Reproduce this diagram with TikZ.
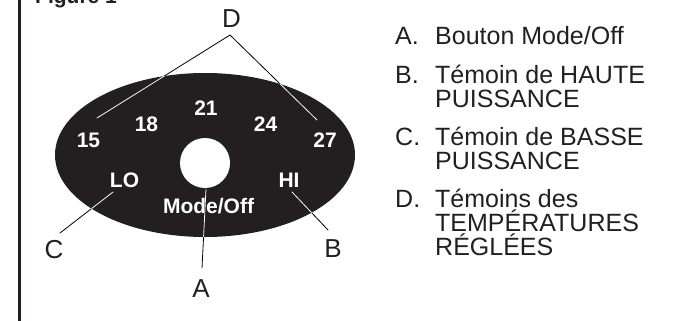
\documentclass[tikz,border=0pt]{standalone}
\usepackage{fontspec}
\setmainfont{Liberation Sans}
\definecolor{ink}{RGB}{35,31,32}
\begin{document}
\begin{tikzpicture}[x=1pt,y=-1pt,
  num/.style={text=white,font=\bfseries\fontsize{21}{21}\selectfont,inner sep=0pt,anchor=base},
  lbl/.style={text=ink,font=\fontsize{26}{24}\selectfont,inner sep=0pt,anchor=base},
  leg/.style={text=ink,font=\fontsize{25}{24}\selectfont,inner sep=0pt,anchor=base west},
  lead/.style={line width=0.8pt,line cap=round}]
\useasboundingbox (0,0) rectangle (685,321);
\clip (0,0) rectangle (685,321);
% title (cut at the top) and frame edge
\node[font=\bfseries\fontsize{21}{21}\selectfont,text=ink,anchor=base west,inner sep=0pt] (title) at (35,3.5) {Figure 1};
\draw[ink,line width=2.3pt] (19.5,0) -- (19.5,321);
% control panel
\fill[ink] (205,155) ellipse [x radius=150, y radius=82];
\fill[white] (205,163) circle [radius=25];
\node[num] (t15) at (88.5,147.5) {15};
\node[num] (t18) at (146.5,131) {18};
\node[num] (t21) at (206,115) {21};
\node[num] (t24) at (265.5,131) {24};
\node[num] (t27) at (325,147.5) {27};
\node[num] (lo) at (124.5,187) {LO};
\node[num] (hi) at (289,187) {HI};
\node[num] (mode) at (208.5,213) {Mode/Off};
% letter labels
\node[lbl] (D) at (231.5,28) {D};
\node[lbl] (A) at (201,297) {A};
\node[lbl] (C) at (54,258) {C};
\node[lbl] (B) at (333,257) {B};
% leader end points
\coordinate (dtip) at (230,35);
\coordinate (d15) at (97,118);
\coordinate (d27) at (317,120);
\coordinate (cs) at (60,233);
\coordinate (ce) at (113,192);
\coordinate (as) at (202,268);
\coordinate (ae) at (206,189);
\coordinate (bs) at (328,230);
\coordinate (be) at (292,192);
\draw[lead,black] (d15) -- (dtip) -- (d27) (cs) -- (ce) (as) -- (ae) (bs) -- (be);
\begin{scope}
  \clip (205,155) ellipse [x radius=150, y radius=82];
  \draw[lead,white] (d15) -- (dtip) -- (d27) (cs) -- (ce) (as) -- (ae) (bs) -- (be);
\end{scope}
% legend
\node[leg] (la) at (395,45) {A.};
\node[leg] (ta) at (435,45) {Bouton Mode/Off};
\node[leg] (lb) at (395,83) {B.};
\node[leg] (tb1) at (435,83) {Témoin de HAUTE};
\node[leg] (tb2) at (435,107) {PUISSANCE};
\node[leg] (lc) at (395,145) {C.};
\node[leg] (tc1) at (435,145) {Témoin de BASSE};
\node[leg] (tc2) at (435,169) {PUISSANCE};
\node[leg] (ld) at (395,207) {D.};
\node[leg] (td1) at (435,207) {Témoins des};
\node[leg] (td2) at (435,231) {TEMPÉRATURES};
\node[leg] (td3) at (435,255) {RÉGLÉES};
\end{tikzpicture}
\end{document}
